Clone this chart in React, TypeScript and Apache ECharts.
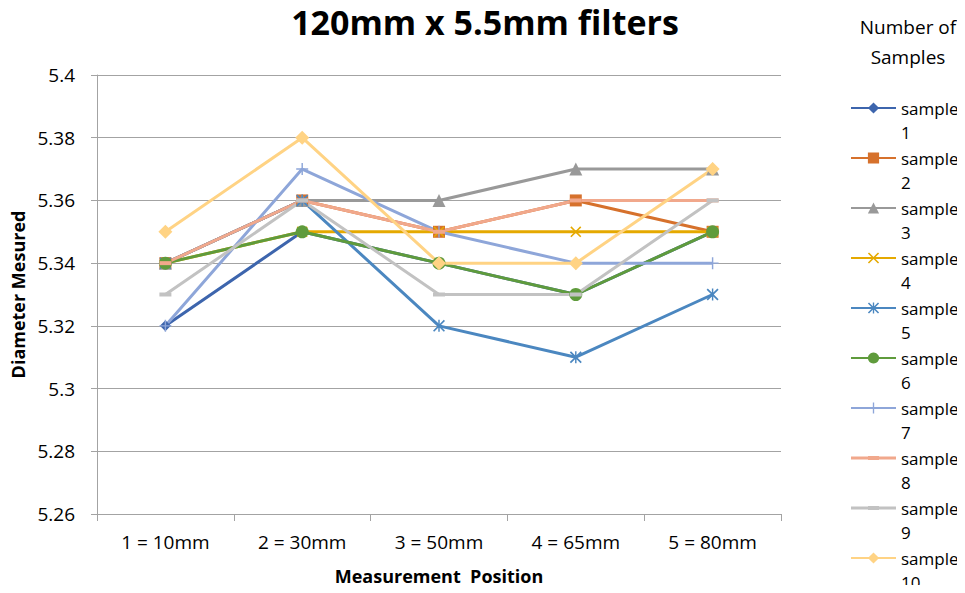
import React, { useEffect, useRef } from "react";
import * as echarts from "echarts";

const categories = ["1 = 10mm", "2 = 30mm", "3 = 50mm", "4 = 65mm", "5 = 80mm"];
const seriesNames = [
  "sample 1", "sample 2", "sample 3", "sample 4", "sample 5",
  "sample 6", "sample 7", "sample 8", "sample 9", "sample 10",
];
const sample1 = [5.32, 5.35, 5.34, 5.33, 5.35];
const sample2 = [5.34, 5.36, 5.35, 5.36, 5.35];
const sample3 = [5.34, 5.36, 5.36, 5.37, 5.37];
const sample4 = [5.34, 5.35, 5.35, 5.35, 5.35];
const sample5 = [5.34, 5.36, 5.32, 5.31, 5.33];
const sample6 = [5.34, 5.35, 5.34, 5.33, 5.35];
const sample7 = [5.32, 5.37, 5.35, 5.34, 5.34];
const sample8 = [5.34, 5.36, 5.35, 5.36, 5.36];
const sample9 = [5.33, 5.36, 5.33, 5.33, 5.36];
const sample10 = [5.35, 5.38, 5.34, 5.34, 5.37];
const seriesValues = [sample1, sample2, sample3, sample4, sample5, sample6, sample7, sample8, sample9, sample10];

const colors = [
  "#3D65AD", "#D6712C", "#999999", "#E5A900", "#4B87C0",
  "#5F9B3C", "#8EA6D9", "#F1A88C", "#C2C2C2", "#FFD384",
];

const X_SYM = "path://M0,1L1,0L5,4L9,0L10,1L6,5L10,9L9,10L5,6L1,10L0,9L4,5Z";
const AST_SYM = "path://M0,1L1,0L5,4L9,0L10,1L6,5L10,9L9,10L5,6L1,10L0,9L4,5Z M4.4,0L5.6,0L5.6,10L4.4,10Z";
const PLUS_SYM = "path://M4.4,0L5.6,0L5.6,4.4L10,4.4L10,5.6L5.6,5.6L5.6,10L4.4,10L4.4,5.6L0,5.6L0,4.4L4.4,4.4Z";
const DASH_LEGEND =
  "path://M0,0L0.01,0L0.01,0.01Z M0,14L0.01,14L0.01,13.99Z M0,5.5L45,5.5L45,8.5L0,8.5Z M17,5L28,5L28,9L17,9Z";

const symbols: any[] = ["diamond", "rect", "triangle", X_SYM, AST_SYM, "circle", PLUS_SYM, "rect", "rect", "diamond"];
const symbolSizes: any[] = [11, 12, 13, 11, 12, 13, 12, [12, 4], [12, 4], 14];
const dashLegend = [false, false, false, false, false, false, false, true, true, false];

const FONT = "'Open Sans', 'Noto Sans', sans-serif";

export default function App() {
  const ref = useRef<HTMLDivElement>(null);
  useEffect(() => {
    if (!ref.current) return;
    const chart = echarts.init(ref.current, undefined, { renderer: "svg" });
    chart.setOption({
      animation: false,
      backgroundColor: "#ffffff",
      textStyle: { fontFamily: FONT },
      title: [
        {
          text: "120mm x 5.5mm filters",
          left: 480,
          top: 0,
          textAlign: "center",
          textStyle: { fontSize: 34, fontWeight: "bold", color: "#000", fontFamily: FONT },
        },
        {
          text: "Number of\nSamples",
          left: 903,
          top: 7,
          textAlign: "center",
          textStyle: { fontSize: 19, fontWeight: "normal", color: "#000", lineHeight: 30, fontFamily: FONT },
        },
      ],
      grid: { left: 97, right: 184, top: 75, bottom: 79, containLabel: false },
      legend: {
        orient: "vertical",
        left: 850,
        top: 72,
        height: 560,
        padding: 0,
        itemWidth: 45,
        itemHeight: 14,
        itemGap: -22,
        data: seriesNames.map((name, i) => (dashLegend[i] ? { name, icon: DASH_LEGEND } : { name })),
        formatter: (name: string) => "\n" + name.replace(" ", "\n"),
        textStyle: {
          fontSize: 17,
          lineHeight: 24,
          color: "#000",
          fontFamily: FONT,
        },
      },
      xAxis: {
        type: "category",
        data: categories,
        boundaryGap: true,
        name: "Measurement  Position",
        nameLocation: "middle",
        nameGap: 53,
        nameTextStyle: { fontSize: 18, fontWeight: "bold", color: "#000", fontFamily: FONT },
        axisLine: { lineStyle: { color: "#A3A3A3", width: 1 } },
        axisTick: { show: true, length: 7, lineStyle: { color: "#A3A3A3" } },
        axisLabel: { fontSize: 19, color: "#000", margin: 18, fontFamily: FONT },
        splitLine: { show: false },
      },
      yAxis: {
        type: "value",
        min: 5.26,
        max: 5.4,
        interval: 0.02,
        name: "Diameter Mesured",
        nameLocation: "middle",
        nameGap: 70,
        nameRotate: 90,
        nameTextStyle: { fontSize: 18, fontWeight: "bold", color: "#000", fontFamily: FONT },
        axisLine: { show: true, lineStyle: { color: "#A3A3A3", width: 1 } },
        axisTick: { show: true, length: 6, lineStyle: { color: "#A3A3A3" } },
        axisLabel: {
          fontSize: 19,
          color: "#000",
          margin: 22,
          fontFamily: FONT,
          formatter: (v: number) => String(parseFloat(v.toFixed(2))),
        },
        splitLine: { show: true, lineStyle: { color: "#A3A3A3", width: 1 } },
      },
      series: seriesNames.map((name, i) => ({
        name,
        type: "line",
        data: seriesValues[i],
        symbol: symbols[i],
        symbolSize: symbolSizes[i],
        showAllSymbol: true,
        lineStyle: { color: colors[i], width: 3 },
        itemStyle: { color: colors[i], borderColor: colors[i], borderWidth: 0 },
        color: colors[i],
        emphasis: { disabled: true },
      })),
    });
    return () => chart.dispose();
  }, []);
  return <div ref={ref} style={{ width: 965, height: 593, margin: -8 }} />;
}
